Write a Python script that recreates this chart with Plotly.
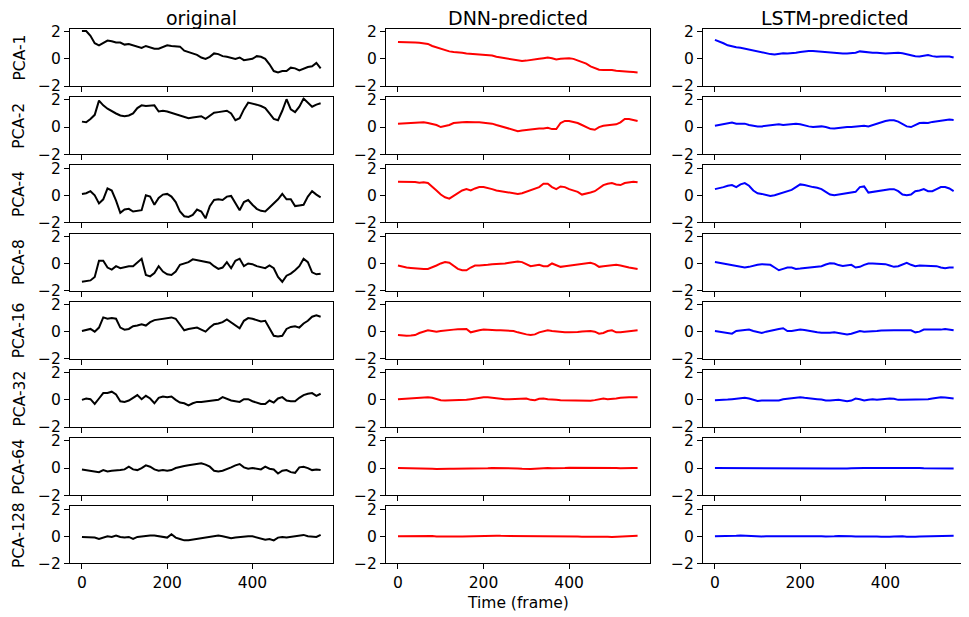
import plotly.graph_objects as go

# ---------------- data ----------------
frames = list(range(0, 561, 10))
row_labels = ["PCA-1", "PCA-2", "PCA-4", "PCA-8", "PCA-16", "PCA-32", "PCA-64", "PCA-128"]
col_titles = ["original", "DNN-predicted", "LSTM-predicted"]
line_colors = ["black", "red", "blue"]
x_ticks = [0, 200, 400]
y_ticks = [-2, 0, 2]
y_ticktext = ["\u22122", "0", "2"]

orig_pca1 = [2.05, 2.05, 1.7, 1.15, 1.0, 1.2, 1.35, 1.3, 1.2, 1.2, 1.05, 1.1, 1.0, 0.9, 0.8, 0.95, 0.85, 0.75, 0.75, 0.9,
             1.0, 0.95, 0.95, 0.9, 0.6, 0.5, 0.4, 0.3, 0.1, 0.0, 0.15, 0.4, 0.35, 0.2, 0.15, 0.1, 0.0, 0.1, -0.1, -0.05,
             0.0, 0.2, 0.15, 0.0, -0.4, -0.9, -1.0, -0.9, -0.9, -0.65, -0.7, -0.85, -0.7, -0.6, -0.55, -0.3, -0.7]
orig_pca2 = [0.4, 0.35, 0.6, 0.9, 1.95, 1.6, 1.35, 1.15, 1.0, 0.85, 0.8, 0.85, 1.0, 1.4, 1.6, 1.55, 1.6, 1.6, 1.15, 1.2,
             1.15, 1.05, 0.9, 0.8, 0.7, 0.65, 0.7, 0.75, 0.8, 0.6, 0.85, 1.05, 1.1, 1.15, 1.2, 1.0, 0.5, 0.65, 1.3, 1.8,
             1.75, 1.65, 1.55, 1.4, 1.0, 0.6, 0.5, 1.2, 2.05, 1.3, 1.1, 1.5, 2.1, 1.8, 1.5, 1.65, 1.75]
orig_pca4 = [0.1, 0.15, 0.3, 0.0, -0.6, -0.3, 0.5, 0.35, -0.4, -1.3, -1.05, -1.0, -1.2, -1.15, -1.1, 0.0, -0.1, -0.7, -0.2, 0.05,
             0.1, -0.1, -0.5, -1.2, -1.55, -1.6, -1.45, -1.05, -1.2, -1.7, -0.8, -0.35, -0.3, -0.35, -0.1, -0.05, -0.6, -1.1, -0.5, -0.35,
             -0.7, -1.0, -1.15, -1.2, -0.9, -0.6, -0.3, 0.1, -0.3, -0.3, -0.8, -0.75, -0.7, -0.1, 0.3, 0.05, -0.15]
orig_pca8 = [-1.35, -1.3, -1.25, -1.0, 0.2, 0.2, -0.3, -0.45, -0.2, -0.35, -0.25, -0.2, -0.2, 0.1, 0.35, -0.85, -0.95, -0.7, -0.2, -0.6,
             -0.8, -0.85, -0.6, -0.1, 0.0, 0.1, 0.3, 0.25, 0.2, 0.15, 0.05, -0.2, -0.4, -0.3, 0.1, -0.35, 0.2, 0.35, -0.2, 0.0,
             -0.05, -0.2, -0.3, -0.35, -0.15, -0.35, -1.0, -1.35, -0.9, -0.75, -0.5, -0.2, 0.35, 0.1, -0.65, -0.8, -0.75]
orig_pca16 = [0.05, 0.1, 0.2, 0.0, 0.3, 1.05, 0.95, 1.0, 0.95, 0.3, 0.15, 0.2, 0.4, 0.45, 0.55, 0.45, 0.7, 0.85, 0.9, 0.95,
              1.0, 1.05, 0.95, 0.5, 0.1, 0.2, 0.25, 0.3, 0.15, 0.0, 0.3, 0.55, 0.6, 0.7, 0.9, 0.7, 0.5, 0.25, 0.8, 1.0,
              0.95, 0.85, 0.75, 0.8, 0.3, -0.3, -0.35, -0.3, 0.2, 0.35, 0.4, 0.3, 0.6, 0.8, 1.1, 1.2, 1.1]
orig_pca32 = [0.0, 0.1, 0.05, -0.3, 0.1, 0.5, 0.5, 0.6, 0.4, -0.1, -0.15, -0.05, 0.15, 0.35, 0.05, 0.3, 0.1, -0.25, 0.15, 0.25,
              0.2, 0.25, 0.0, -0.2, -0.25, -0.4, -0.25, -0.15, -0.15, -0.1, -0.1, -0.05, 0.0, 0.2, 0.05, -0.05, -0.1, -0.15, 0.05, 0.05,
              -0.1, -0.2, -0.3, -0.3, -0.05, -0.2, 0.1, 0.2, -0.05, -0.1, -0.1, 0.15, 0.35, 0.45, 0.5, 0.3, 0.45]
orig_pca64 = [-0.1, -0.15, -0.2, -0.2, -0.3, -0.15, -0.25, -0.2, -0.2, -0.15, -0.1, 0.1, -0.1, -0.15, 0.0, 0.2, 0.1, -0.1, -0.2, -0.15,
              -0.2, -0.15, 0.0, 0.1, 0.15, 0.2, 0.25, 0.3, 0.35, 0.25, 0.1, -0.2, -0.25, -0.2, -0.1, 0.05, 0.2, 0.3, 0.05, -0.05,
              0.0, -0.05, -0.1, 0.1, -0.05, -0.1, -0.4, -0.2, -0.15, -0.3, -0.35, 0.05, 0.1, 0.0, -0.15, -0.1, -0.15]
orig_pca128 = [-0.05, -0.05, -0.05, -0.1, -0.2, -0.1, 0.0, -0.05, 0.05, -0.05, -0.1, -0.05, -0.2, -0.05, 0.0, 0.0, 0.05, 0.05, 0.0, -0.05,
               -0.1, 0.15, -0.1, -0.2, -0.3, -0.3, -0.25, -0.2, -0.15, -0.1, -0.05, 0.05, 0.05, 0.0, -0.05, -0.15, -0.1, -0.05, 0.0, 0.0,
               0.0, -0.1, -0.2, -0.25, -0.2, -0.3, -0.1, -0.05, -0.1, -0.05, 0.0, 0.05, 0.1, 0.0, 0.0, -0.05, 0.1]

dnn_pca1 = [1.25, 1.25, 1.23, 1.2, 1.2, 1.18, 1.15, 1.1, 0.95, 0.85, 0.75, 0.6, 0.55, 0.5, 0.5, 0.45, 0.4, 0.38, 0.37, 0.35,
            0.33, 0.3, 0.25, 0.15, 0.1, 0.05, -0.05, -0.1, -0.15, -0.15, -0.13, -0.1, -0.05, 0.0, 0.05, 0.1, 0.05, -0.05, 0.0, 0.05,
            0.05, 0.0, -0.1, -0.2, -0.35, -0.55, -0.7, -0.8, -0.82, -0.8, -0.83, -0.88, -0.92, -0.93, -0.95, -0.97, -1.0]
dnn_pca2 = [0.25, 0.27, 0.3, 0.32, 0.35, 0.35, 0.35, 0.3, 0.25, 0.15, 0.0, 0.05, 0.15, 0.3, 0.35, 0.35, 0.38, 0.35, 0.35, 0.35,
            0.33, 0.3, 0.25, 0.15, 0.05, -0.05, -0.15, -0.25, -0.3, -0.25, -0.2, -0.15, -0.1, -0.1, -0.1, -0.05, -0.15, -0.15, 0.3, 0.45,
            0.45, 0.4, 0.3, 0.15, 0.0, -0.15, -0.2, 0.0, 0.1, 0.15, 0.2, 0.2, 0.35, 0.6, 0.6, 0.55, 0.45]
dnn_pca4 = [1.0, 1.0, 1.0, 1.0, 0.97, 0.93, 0.95, 0.9, 0.65, 0.35, 0.05, -0.15, -0.25, -0.05, 0.2, 0.35, 0.45, 0.35, 0.5, 0.6,
            0.6, 0.55, 0.45, 0.35, 0.3, 0.25, 0.2, 0.15, 0.1, 0.15, 0.25, 0.35, 0.5, 0.6, 0.85, 0.85, 0.6, 0.45, 0.65, 0.6,
            0.45, 0.35, 0.25, 0.05, 0.1, 0.2, 0.3, 0.55, 0.75, 0.85, 0.9, 0.8, 0.75, 0.9, 0.95, 1.0, 0.95]
dnn_pca8 = [-0.15, -0.25, -0.3, -0.33, -0.37, -0.4, -0.4, -0.4, -0.3, -0.15, 0.0, 0.1, 0.05, -0.15, -0.4, -0.5, -0.5, -0.3, -0.15, -0.15,
            -0.15, -0.1, -0.05, -0.05, -0.05, 0.0, 0.05, 0.1, 0.15, 0.1, -0.05, -0.2, -0.15, -0.1, -0.2, -0.2, 0.0, -0.1, -0.25, -0.2,
            -0.15, -0.15, -0.1, -0.05, 0.05, 0.05, -0.05, -0.25, -0.2, -0.15, -0.1, -0.1, -0.15, -0.25, -0.3, -0.35, -0.4]
dnn_pca16 = [-0.25, -0.28, -0.3, -0.28, -0.25, -0.1, 0.0, 0.1, 0.05, 0.0, 0.05, 0.1, 0.15, 0.15, 0.18, 0.2, 0.2, -0.05, 0.05, 0.1,
             0.15, 0.12, 0.1, 0.1, 0.1, 0.1, 0.1, 0.05, -0.05, -0.15, -0.2, -0.25, -0.2, -0.05, 0.05, 0.1, 0.05, 0.0, -0.02, -0.05,
             -0.05, -0.05, -0.03, 0.02, 0.05, 0.05, 0.0, -0.15, -0.1, 0.05, 0.1, -0.05, -0.05, 0.0, 0.03, 0.07, 0.1]
dnn_pca32 = [0.05, 0.07, 0.08, 0.1, 0.1, 0.13, 0.18, 0.2, 0.15, 0.05, -0.03, -0.05, -0.05, -0.05, -0.05, -0.03, 0.0, 0.05, 0.1, 0.18,
             0.2, 0.2, 0.15, 0.1, 0.07, 0.05, 0.05, 0.05, 0.05, 0.05, 0.1, 0.0, -0.03, 0.08, 0.1, 0.05, 0.0, 0.0, -0.02, -0.03,
             -0.05, -0.05, -0.08, -0.1, -0.1, -0.07, -0.02, 0.05, 0.1, 0.05, 0.05, 0.1, 0.15, 0.2, 0.2, 0.2, 0.2]
dnn_pca64 = [0.0, 0.0, 0.0, 0.0, 0.0, 0.0, 0.0, -0.02, -0.05, -0.07, -0.08, -0.07, -0.06, -0.05, -0.05, -0.03, -0.05, -0.07, -0.05, -0.05,
             -0.03, -0.02, 0.0, 0.0, 0.0, 0.0, 0.0, -0.02, -0.03, -0.06, -0.08, -0.07, -0.05, -0.02, 0.0, 0.0, -0.02, -0.03, 0.0, 0.0,
             0.02, 0.02, 0.03, 0.03, 0.05, 0.05, 0.05, 0.05, 0.03, 0.02, 0.0, 0.0, -0.02, 0.0, 0.0, 0.0, 0.0]
dnn_pca128 = [0.0, 0.0, 0.0, 0.02, 0.03, 0.05, 0.05, 0.04, 0.02, -0.02, -0.03, -0.03, -0.03, -0.02, -0.02, -0.01, 0.0, 0.03, 0.02, 0.04,
              0.05, 0.05, 0.05, 0.04, 0.03, 0.03, 0.03, 0.02, 0.0, -0.01, -0.02, -0.02, -0.01, 0.0, 0.02, 0.01, 0.0, 0.0, 0.01, 0.0,
              0.0, -0.01, -0.02, -0.03, -0.03, -0.02, -0.01, 0.02, 0.01, -0.03, -0.05, -0.03, 0.0, 0.02, 0.03, 0.03, 0.03]

lstm_pca1 = [1.4, 1.3, 1.15, 1.0, 0.9, 0.85, 0.82, 0.75, 0.7, 0.6, 0.52, 0.45, 0.4, 0.35, 0.32, 0.38, 0.42, 0.4, 0.4, 0.45,
             0.5, 0.55, 0.58, 0.58, 0.55, 0.5, 0.48, 0.45, 0.42, 0.4, 0.4, 0.4, 0.42, 0.45, 0.55, 0.5, 0.45, 0.45, 0.45, 0.42,
             0.4, 0.42, 0.45, 0.45, 0.42, 0.35, 0.25, 0.2, 0.18, 0.22, 0.28, 0.2, 0.15, 0.18, 0.2, 0.18, 0.1]
lstm_pca2 = [0.1, 0.15, 0.2, 0.25, 0.33, 0.25, 0.25, 0.25, 0.15, 0.08, 0.05, 0.05, 0.08, 0.1, 0.15, 0.2, 0.15, 0.18, 0.22, 0.25,
             0.2, 0.1, 0.05, 0.0, 0.02, 0.05, 0.0, -0.08, -0.1, -0.05, -0.03, 0.0, 0.0, 0.05, 0.1, 0.1, 0.05, 0.15, 0.3, 0.4,
             0.45, 0.5, 0.5, 0.4, 0.2, 0.05, 0.0, 0.15, 0.3, 0.32, 0.3, 0.38, 0.42, 0.5, 0.55, 0.55, 0.52]
lstm_pca4 = [0.45, 0.5, 0.6, 0.7, 0.75, 0.6, 0.8, 0.9, 0.7, 0.35, 0.15, 0.1, 0.0, -0.05, 0.0, 0.1, 0.25, 0.3, 0.4, 0.6,
             0.8, 0.75, 0.65, 0.6, 0.55, 0.45, 0.25, 0.05, 0.0, 0.05, 0.15, 0.2, 0.25, 0.25, 0.6, 0.65, 0.2, 0.25, 0.35, 0.35,
             0.4, 0.45, 0.45, 0.3, 0.05, 0.0, 0.05, 0.3, 0.35, 0.45, 0.3, 0.3, 0.45, 0.6, 0.6, 0.5, 0.3]
lstm_pca8 = [0.1, 0.05, 0.0, -0.1, -0.15, -0.15, -0.2, -0.3, -0.25, -0.15, -0.1, -0.05, -0.05, -0.1, -0.3, -0.5, -0.4, -0.3, -0.3, -0.4,
             -0.38, -0.35, -0.33, -0.3, -0.28, -0.2, -0.08, 0.02, 0.0, -0.12, -0.18, -0.15, -0.1, -0.3, -0.25, -0.1, 0.0, 0.0, -0.02, 0.0,
             -0.05, -0.15, -0.25, -0.2, -0.05, 0.05, -0.1, -0.2, -0.15, -0.15, -0.15, -0.15, -0.2, -0.3, -0.35, -0.3, -0.3]
lstm_pca16 = [0.05, 0.0, -0.05, -0.1, -0.15, 0.05, 0.1, 0.12, 0.15, 0.05, -0.05, -0.1, 0.0, 0.08, 0.15, 0.2, 0.25, 0.05, 0.05, 0.1,
              0.15, 0.12, 0.05, 0.0, -0.05, -0.08, -0.1, -0.08, -0.05, -0.1, -0.15, -0.2, -0.15, -0.05, 0.05, 0.0, 0.0, 0.05, 0.05, 0.08,
              0.1, 0.1, 0.1, 0.1, 0.1, 0.1, 0.1, -0.05, 0.0, 0.15, 0.15, 0.1, 0.12, 0.15, 0.2, 0.15, 0.1]
lstm_pca32 = [-0.02, -0.02, 0.0, 0.02, 0.05, 0.1, 0.12, 0.15, 0.1, 0.0, -0.08, -0.05, -0.05, -0.05, -0.1, -0.05, 0.05, 0.08, 0.1, 0.15,
              0.2, 0.15, 0.1, 0.05, 0.05, 0.02, -0.05, -0.05, -0.02, 0.0, -0.05, -0.1, -0.05, 0.1, 0.05, -0.05, 0.0, 0.05, 0.0, 0.05,
              0.05, 0.1, 0.08, 0.0, 0.0, 0.0, 0.0, 0.02, 0.03, 0.05, 0.05, 0.1, 0.15, 0.2, 0.18, 0.15, 0.1]
lstm_pca64 = [0.0, 0.0, 0.01, 0.02, 0.02, 0.0, -0.01, -0.02, -0.02, -0.03, -0.03, -0.02, 0.0, 0.0, -0.01, -0.02, -0.03, -0.02, 0.0, 0.0,
              0.0, -0.01, -0.02, -0.02, -0.03, -0.03, -0.02, -0.03, -0.04, -0.05, -0.05, -0.04, -0.02, 0.0, 0.02, 0.01, 0.0, 0.0, 0.01, 0.02,
              0.02, 0.01, 0.0, 0.0, 0.02, 0.04, 0.05, 0.03, 0.0, -0.02, -0.02, -0.02, -0.02, -0.03, -0.03, -0.03, -0.03]
lstm_pca128 = [0.0, 0.0, -0.01, -0.02, 0.0, 0.03, 0.05, 0.03, 0.0, -0.02, -0.02, -0.01, 0.0, 0.0, 0.0, 0.02, 0.04, 0.05, 0.04, 0.02,
               0.0, 0.0, 0.0, 0.0, 0.0, 0.0, -0.01, -0.02, 0.0, 0.02, 0.03, 0.02, 0.0, -0.02, -0.01, 0.0, 0.0, 0.0, -0.01, -0.03,
               -0.05, -0.04, -0.02, 0.0, 0.0, -0.03, -0.05, -0.03, -0.01, 0.0, 0.0, 0.01, 0.02, 0.03, 0.03, 0.03, 0.03]

original = [orig_pca1, orig_pca2, orig_pca4, orig_pca8, orig_pca16, orig_pca32, orig_pca64, orig_pca128]
dnn = [dnn_pca1, dnn_pca2, dnn_pca4, dnn_pca8, dnn_pca16, dnn_pca32, dnn_pca64, dnn_pca128]
lstm = [lstm_pca1, lstm_pca2, lstm_pca4, lstm_pca8, lstm_pca16, lstm_pca32, lstm_pca64, lstm_pca128]
columns = [original, dnn, lstm]

# ---------------- layout geometry (target pixels in the 969x617 window) ----------------
OFF = 8  # the page body adds an 8px margin around the plot div
W, H = 969 - OFF, 617 - OFF
ML, MR, MT, MB = 70 - OFF, 3, 29 - OFF, 53 - OFF
PW, PH = W - ML - MR, H - MT - MB
col_px = [(70, 333), (386, 650), (703, 966)]
row_top0, row_pitch, row_h = 29, 68.2, 57.0


def clamp(v):
    return min(1.0, max(0.0, v))


def px_x(p):
    return (p - OFF - ML) / PW


def px_y(p):
    return 1 - (p - OFF - MT) / PH


FONT = "DejaVu Sans"
TICK_SIZE = 15.5
fig = go.Figure()
layout = {}
n_rows = len(row_labels)
for r in range(n_rows):
    top = row_top0 + row_pitch * r
    bot = top + row_h
    for c in range(3):
        idx = r * 3 + c + 1
        sfx = "" if idx == 1 else str(idx)
        vals = columns[c][r]
        fig.add_trace(go.Scatter(x=frames[:len(vals)], y=vals, mode="lines",
                                 line=dict(color=line_colors[c], width=2),
                                 xaxis="x" + sfx, yaxis="y" + sfx,
                                 showlegend=False, hoverinfo="skip"))
        layout["xaxis" + sfx] = dict(
            domain=[clamp(px_x(col_px[c][0])), clamp(px_x(col_px[c][1]))], anchor="y" + sfx,
            range=[-28, 589], tickvals=x_ticks, ticks="outside", ticklen=5, tickwidth=1,
            tickcolor="black", showline=True, mirror=True, linecolor="black", linewidth=1,
            showgrid=False, zeroline=False, showticklabels=(r == n_rows - 1), automargin=False,
            tickfont=dict(family=FONT, size=TICK_SIZE, color="black"))
        layout["yaxis" + sfx] = dict(
            domain=[clamp(px_y(bot)), clamp(px_y(top))], anchor="x" + sfx,
            range=[-2, 2.2], tickvals=y_ticks, ticktext=y_ticktext, ticks="outside",
            ticklen=5, tickwidth=1, tickcolor="black", showline=True, mirror=True,
            linecolor="black", linewidth=1, showgrid=False, zeroline=False, automargin=False,
            tickfont=dict(family=FONT, size=TICK_SIZE, color="black"))

annotations = []
for c, t in enumerate(col_titles):
    annotations.append(dict(text=t, x=px_x((col_px[c][0] + col_px[c][1]) / 2), y=px_y(18),
                            xref="paper", yref="paper", xanchor="center", yanchor="middle",
                            showarrow=False, font=dict(family=FONT, size=19, color="black")))
for r, lab in enumerate(row_labels):
    cy = row_top0 + row_pitch * r + row_h / 2
    annotations.append(dict(text=lab, x=px_x(19), y=px_y(cy), xref="paper", yref="paper",
                            xanchor="center", yanchor="middle", textangle=-90, showarrow=False,
                            font=dict(family=FONT, size=TICK_SIZE, color="black")))
annotations.append(dict(text="Time (frame)", x=px_x((col_px[1][0] + col_px[1][1]) / 2), y=px_y(603),
                        xref="paper", yref="paper", xanchor="center", yanchor="middle",
                        showarrow=False, font=dict(family=FONT, size=TICK_SIZE, color="black")))

fig.update_layout(width=W, height=H, margin=dict(l=ML, r=MR, t=MT, b=MB, autoexpand=False),
                  paper_bgcolor="white", plot_bgcolor="white",
                  annotations=annotations, **layout)
fig.write_html("out.html")
